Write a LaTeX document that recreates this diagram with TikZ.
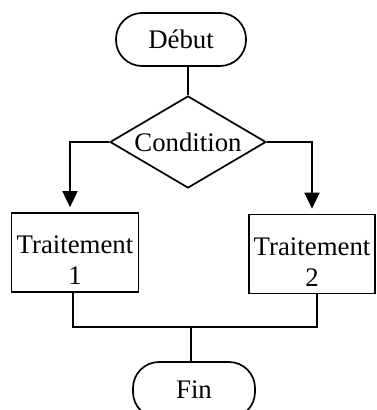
\documentclass[tikz,border=0pt]{standalone}
\usepackage{fontspec}
\setmainfont{Liberation Serif}
\usetikzlibrary{shapes.geometric,arrows.meta}

\tikzset{
  flowline/.style={line width=1.7pt, line join=miter},
  terminal/.style={flowline, draw, rectangle, rounded corners=26pt,
    minimum width=130pt, minimum height=53pt, inner sep=0pt},
  decision/.style={flowline, draw, diamond, aspect=1.7, minimum width=156pt,
    minimum height=92pt, inner sep=0pt},
  procbox/.style={flowline, draw, rectangle, minimum width=127pt,
    minimum height=79pt, inner sep=0pt},
  boxtext/.style={align=center, inner sep=0pt},
  arrowline/.style={flowline, -{Triangle[width=15pt,length=16pt]}, shorten >=5pt},
}

\begin{document}
\begin{tikzpicture}[x=1pt, y=-1pt, font=\fontsize{26.8}{31}\selectfont]
  \useasboundingbox (0,0) rectangle (376,410);
  \clip (0,0) rectangle (376,410);

  % start / end terminals
  \node[terminal] (debut) at (181,39.5) {Début};
  \node[terminal, minimum width=122pt, minimum height=56pt] (fin) at (194,390) {Fin};

  % decision
  \node[decision] (cond) at (188,142) {Condition};

  % processing boxes
  \node[procbox] (t1) at (75,252.5) {};
  \node[boxtext] (t1txt) at ([yshift=-8pt]t1.center) {Traitement\\1};
  \node[procbox, minimum width=126pt] (t2) at (312,254) {};
  \node[boxtext] (t2txt) at ([yshift=-8pt]t2.center) {Traitement\\2};

  % connectors
  \draw[flowline] (debut.south -| cond.north) -- (cond.north);
  \draw[arrowline] (cond.west) -| ([xshift=-5pt]t1.north);
  \draw[arrowline] (cond.east) -| (t2.north);

  \coordinate (merge) at (191,327);
  \draw[flowline] ([xshift=-2pt]t1.south) |- (merge) -| ([xshift=5pt]t2.south);
  \draw[flowline] (merge) -- (merge |- fin.north);
\end{tikzpicture}
\end{document}
